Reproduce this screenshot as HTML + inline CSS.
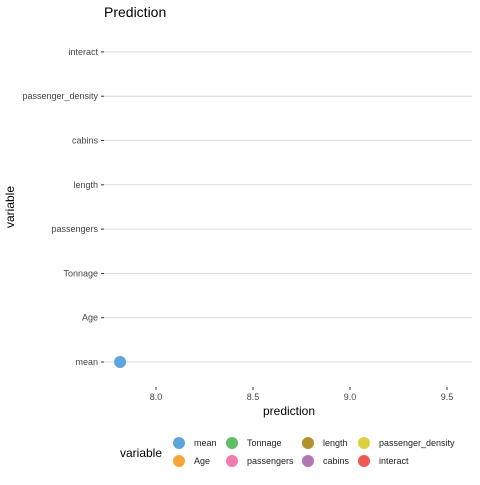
<!DOCTYPE html>
<html><head><meta charset="utf-8"><style>
body{margin:0;background:#fff;font-family:"Liberation Sans",sans-serif}
</style></head><body>
<svg width="480" height="480" xmlns="http://www.w3.org/2000/svg" font-family="Liberation Sans, sans-serif">
<text x="104" y="17" font-size="14" fill="#000">Prediction</text>
<g id="grid"></g><g id="ylab"></g><g id="xlab"></g><g id="pts"></g>
<text x="289" y="415" font-size="12" text-anchor="middle">prediction</text>
<text transform="translate(14,207) rotate(-90)" font-size="12" text-anchor="middle">variable</text>
<g id="legend"><text x="120" y="457" font-size="12">variable</text></g>
</svg>
<script>
const categories=["mean","Age","Tonnage","passengers","length","cabins","passenger_density","interact"];
const colors=["#5DA5DA","#FAA43A","#60BD68","#F17CB0","#B2912F","#B276B2","#DECF3F","#F15854"];
const pointCats=["mean"];
const pointValues=[7.815];
const xTicks=[8.0,8.5,9.0,9.5];
const xTickLabels=["8.0","8.5","9.0","9.5"];
const NS="http://www.w3.org/2000/svg";
function x(v){return 156+(v-8)*194;}
function y(c){return 362-categories.indexOf(c)*44.3;}
function mk(p,t,a){const e=document.createElementNS(NS,t);for(const k in a)e.setAttribute(k,a[k]);document.getElementById(p).appendChild(e);return e;}
categories.forEach(c=>{
 const l=mk("grid","line",{x1:104,x2:472,y1:y(c),y2:y(c),stroke:"#dcdcdc","stroke-width":1});
 
 
 const t=mk("grid","line",{x1:101,x2:104,y1:y(c),y2:y(c),stroke:"#333","stroke-width":1});
 
 
 const tx=mk("ylab","text",{x:98,y:y(c)+3,"font-size":9,"text-anchor":"end",fill:"#444"});
 tx.textContent=c;
 
 
});
xTicks.forEach((v,i)=>{
 const t=mk("xlab","line",{x1:x(v),x2:x(v),y1:387,y2:390,stroke:"#333","stroke-width":1});
 
 
 const tx=mk("xlab","text",{x:x(v),y:400,"font-size":9,"text-anchor":"middle",fill:"#444"});
 tx.textContent=xTickLabels[i];
 
 
});
pointCats.forEach((c,i)=>{
 const p=mk("pts","circle",{cx:x(pointValues[i]),cy:y(c),r:6,fill:colors[categories.indexOf(c)]});
 
 
});
const lx=[179,232,308,364];
categories.forEach((c,i)=>{
 const col=Math.floor(i/2),row=i%2;
 const cy=443+row*18;
 const ci=mk("legend","circle",{cx:lx[col],cy:cy,r:6,fill:colors[i]});
 
 
 const t=mk("legend","text",{x:lx[col]+15,y:cy+3,"font-size":9,fill:"#222"});
 t.textContent=c;
 
 
});
</script>
</body></html>
